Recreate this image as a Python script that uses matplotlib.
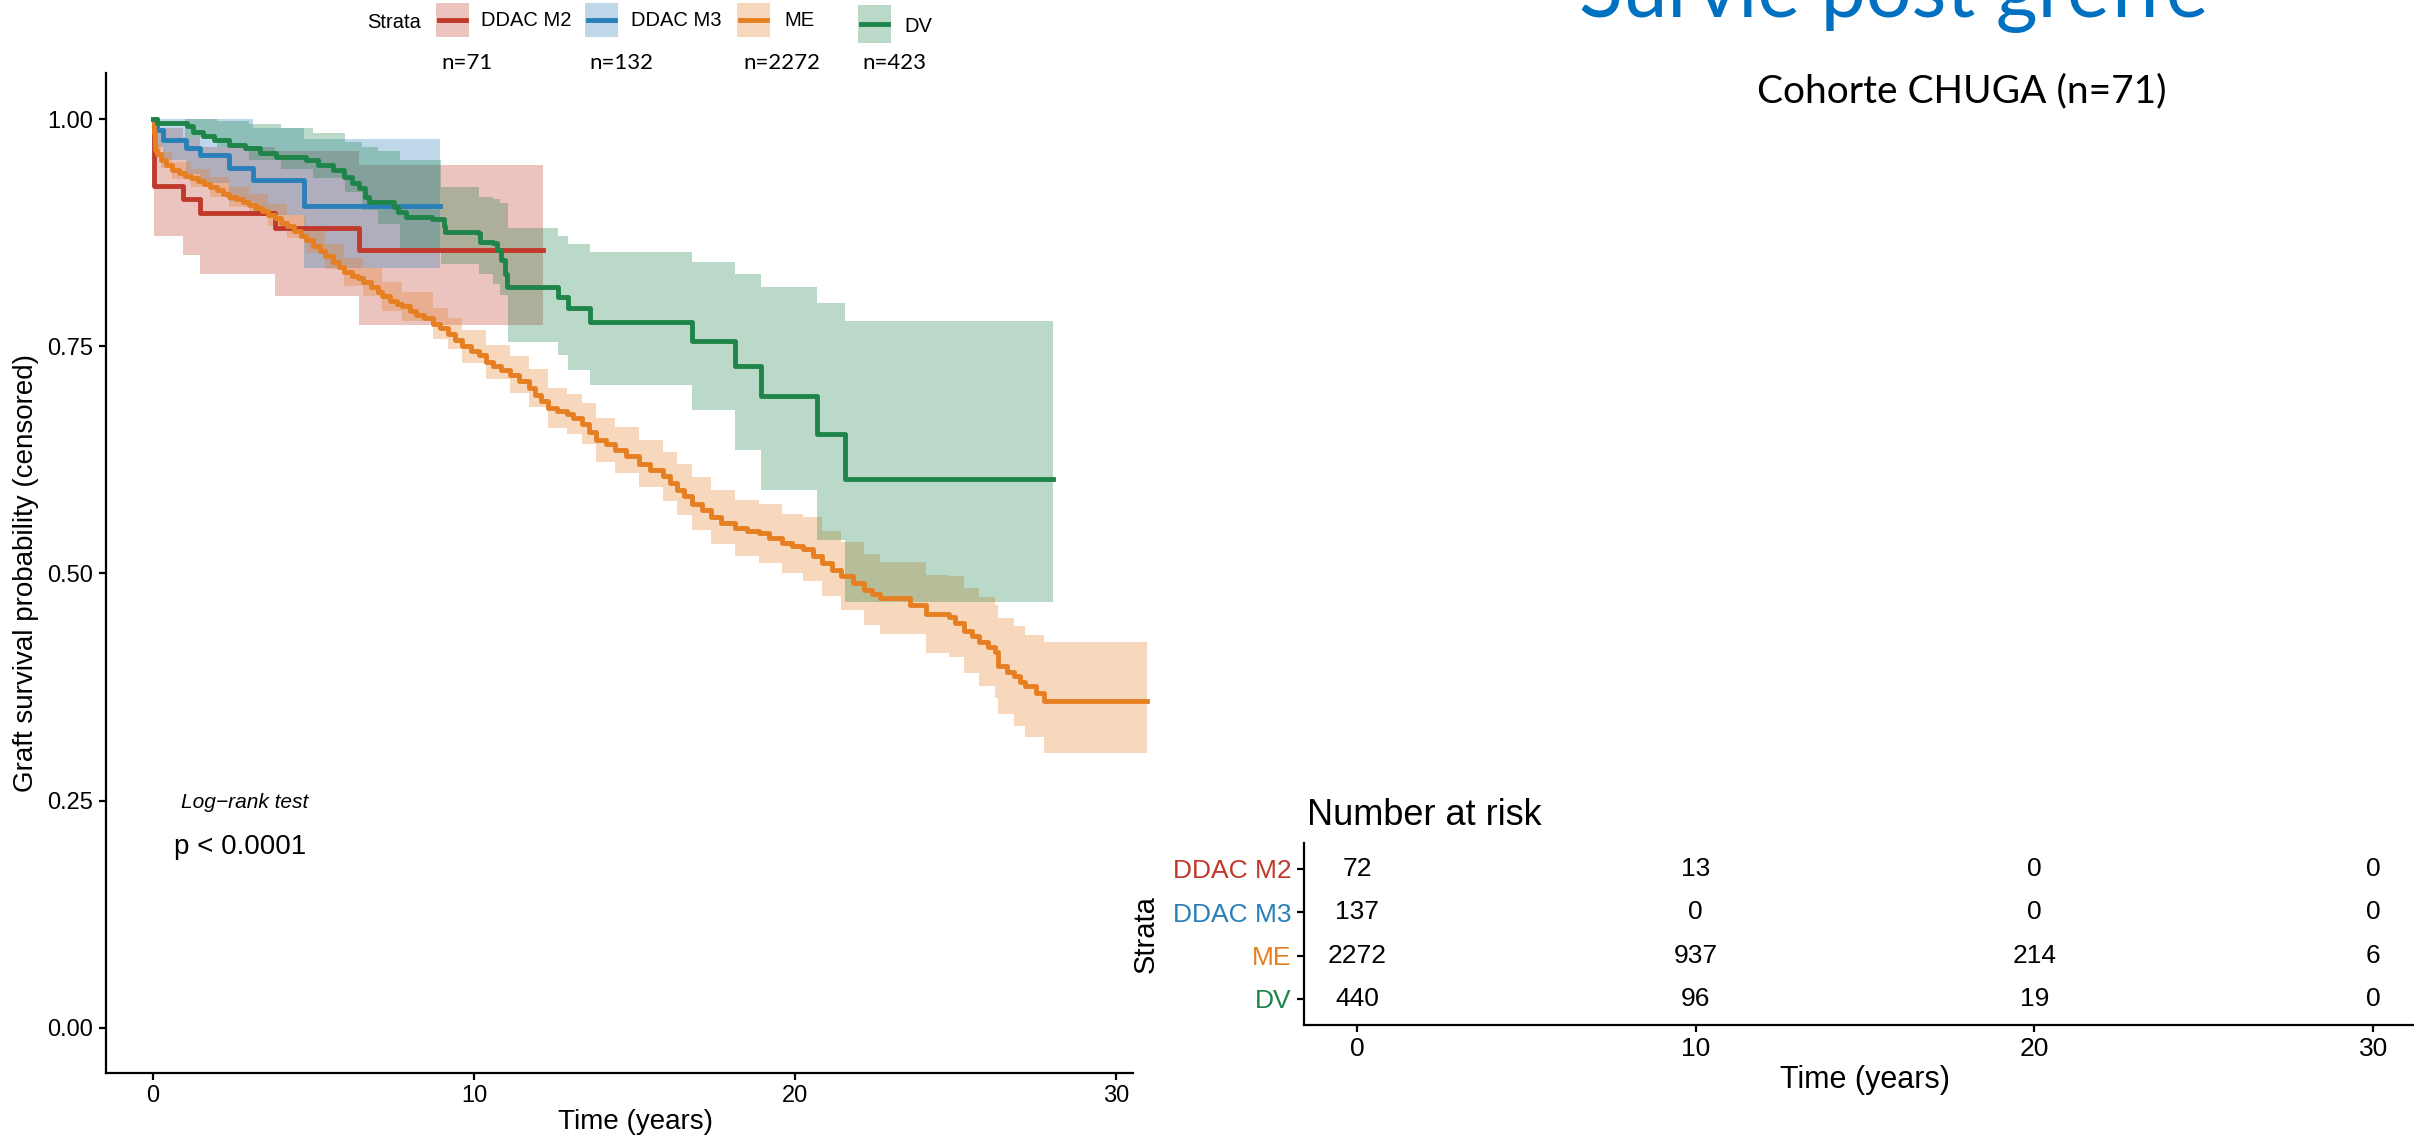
import matplotlib
matplotlib.use("Agg")
import matplotlib.pyplot as plt
from matplotlib.patches import Rectangle

plt.rcParams['font.family'] = ['Liberation Sans', 'DejaVu Sans']

# Kaplan-Meier estimates per stratum (time in years, survival, 95% CI)
m2_t = [0, 0.02, 0.95, 1.46, 3.79, 6.41, 12.16]
m2_s = [1.0, 0.927, 0.912, 0.897, 0.880, 0.856, 0.856]
m2_lo = [1.0, 0.871, 0.851, 0.830, 0.806, 0.774, 0.774]
m2_hi = [1.0, 0.99, 0.98, 0.97, 0.965, 0.950, 0.950]

m3_t = [0, 0.12, 0.3, 1.04, 1.46, 2.36, 3.12, 4.71, 8.94]
m3_s = [1.0, 0.988, 0.977, 0.968, 0.961, 0.946, 0.933, 0.905, 0.905]
m3_lo = [1.0, 0.97, 0.955, 0.94, 0.93, 0.91, 0.895, 0.836, 0.836]
m3_hi = [1.0, 1.0, 1.0, 1.0, 1.0, 1.0, 0.99, 0.978, 0.978]

me_t = [0, 0.02, 0.06, 0.12, 0.24, 0.4, 0.6, 0.8, 1.0, 1.19, 1.4, 1.6, 1.79,
        2.0, 2.2, 2.38, 2.6, 2.8, 2.98, 3.2, 3.4, 3.58, 3.8, 4.0, 4.17, 4.4,
        4.6, 4.77, 5.0, 5.2, 5.37, 5.6, 5.8, 5.96, 6.2, 6.4, 6.56, 6.8, 7.0,
        7.15, 7.4, 7.6, 7.75, 8.0, 8.2, 8.45, 8.74, 8.95, 9.18, 9.4, 9.63,
        9.9, 10.15, 10.38, 10.6, 10.85, 11.12, 11.4, 11.71, 11.9, 12.1, 12.31,
        12.6, 12.91, 13.1, 13.36, 13.6, 13.8, 14.1, 14.4, 14.75, 15.14, 15.5,
        15.89, 16.1, 16.33, 16.55, 16.78, 17.1, 17.38, 17.7, 18.12, 18.5,
        18.87, 19.2, 19.61, 19.9, 20.26, 20.55, 20.85, 21.15, 21.45, 21.8,
        22.16, 22.4, 22.64, 23.59, 24.07, 24.79, 25.0, 25.26, 25.5, 25.74,
        26.0, 26.22, 26.34, 26.6, 26.82, 27.0, 27.17, 27.5, 27.77, 30.98]
me_s = [1.0, 0.985, 0.966, 0.962, 0.955, 0.950, 0.944, 0.941, 0.938, 0.935,
        0.932, 0.929, 0.926, 0.922, 0.918, 0.915, 0.912, 0.909, 0.906, 0.902,
        0.899, 0.895, 0.891, 0.886, 0.882, 0.877, 0.872, 0.867, 0.861, 0.855,
        0.849, 0.843, 0.837, 0.832, 0.828, 0.825, 0.821, 0.815, 0.810, 0.805,
        0.800, 0.797, 0.794, 0.789, 0.785, 0.781, 0.775, 0.770, 0.764, 0.757,
        0.750, 0.745, 0.740, 0.733, 0.728, 0.724, 0.719, 0.712, 0.704, 0.697,
        0.690, 0.682, 0.679, 0.676, 0.671, 0.665, 0.656, 0.647, 0.642, 0.636,
        0.629, 0.621, 0.614, 0.607, 0.600, 0.592, 0.585, 0.577, 0.570, 0.562,
        0.556, 0.550, 0.547, 0.544, 0.539, 0.533, 0.530, 0.527, 0.519, 0.511,
        0.504, 0.4975, 0.490, 0.482, 0.477, 0.473, 0.465, 0.455, 0.4525, 0.445,
        0.437, 0.431, 0.425, 0.419, 0.414, 0.398, 0.392, 0.387, 0.381, 0.376,
        0.368, 0.360, 0.360]
me_band_t = [0, 0.06, 0.24, 0.6, 1.19, 1.79, 2.38, 2.98, 3.58, 4.17, 4.77, 5.37,
             5.96, 6.56, 7.15, 7.75, 8.74, 9.18, 9.63, 10.38, 11.12, 11.71,
             12.31, 12.91, 13.36, 13.8, 14.4, 15.14, 15.89, 16.33, 16.78,
             17.38, 18.12, 18.87, 19.61, 20.26, 20.85, 21.45, 22.16, 22.64,
             24.07, 24.79, 25.26, 25.74, 26.22, 26.34, 26.82, 27.17, 27.77,
             30.98]
me_lo = [1.0, 0.958, 0.946, 0.934, 0.925, 0.915, 0.904, 0.894, 0.883, 0.869,
         0.853, 0.835, 0.817, 0.806, 0.789, 0.778, 0.758, 0.747, 0.732, 0.714,
         0.699, 0.683, 0.660, 0.654, 0.642, 0.623, 0.611, 0.595, 0.580, 0.564,
         0.548, 0.532, 0.519, 0.512, 0.500, 0.492, 0.475, 0.460, 0.443, 0.433,
         0.412, 0.408, 0.390, 0.376, 0.363, 0.345, 0.332, 0.320, 0.302, 0.302]
me_hi = [1.0, 0.974, 0.964, 0.953, 0.945, 0.937, 0.926, 0.918, 0.907, 0.895,
         0.880, 0.863, 0.847, 0.836, 0.821, 0.810, 0.792, 0.781, 0.768, 0.752,
         0.739, 0.725, 0.704, 0.698, 0.688, 0.671, 0.661, 0.647, 0.634, 0.620,
         0.606, 0.592, 0.581, 0.576, 0.566, 0.562, 0.547, 0.535, 0.521, 0.513,
         0.498, 0.497, 0.484, 0.474, 0.465, 0.451, 0.442, 0.432, 0.424, 0.424]

dv_t = [0, 0.12, 1.07, 1.25, 1.55, 1.91, 2.38, 2.86, 3.34, 3.82, 4.77, 5.13,
        5.61, 5.96, 6.2, 6.43, 6.61, 6.74, 7.51, 7.63, 7.87, 8.7, 9.06, 9.1,
        10.13, 10.2, 10.6, 10.72, 10.84, 10.96, 11.02, 12.61, 12.93, 13.62,
        16.78, 18.12, 18.94, 20.68, 21.55, 28.05]
dv_s = [1.0, 0.9955, 0.9926, 0.986, 0.9816, 0.977, 0.9717, 0.968, 0.9626,
        0.959, 0.955, 0.9497, 0.944, 0.937, 0.930, 0.924, 0.915, 0.909, 0.904,
        0.898, 0.893, 0.890, 0.882, 0.876, 0.8745, 0.865, 0.864, 0.856, 0.845,
        0.830, 0.815, 0.804, 0.792, 0.777, 0.756, 0.728, 0.695, 0.654, 0.604,
        0.604]
dv_band_t = [0, 1.0, 2.0, 3.0, 4.0, 5.0, 6.0, 6.5, 7.0, 7.7, 8.96, 10.15,
             10.6, 10.82, 11.05, 12.61, 12.93, 13.62, 16.78, 18.12, 18.94,
             20.68, 21.55, 28.05]
dv_lo = [1.0, 0.98, 0.97, 0.955, 0.945, 0.935, 0.92, 0.90, 0.885, 0.853,
         0.841, 0.830, 0.819, 0.807, 0.755, 0.741, 0.724, 0.7075, 0.680,
         0.636, 0.592, 0.537, 0.469, 0.469]
dv_hi = [1.0, 1.0, 0.998, 0.995, 0.99, 0.985, 0.975, 0.97, 0.965, 0.955,
         0.926, 0.915, 0.912, 0.908, 0.880, 0.871, 0.863, 0.854, 0.843,
         0.830, 0.815, 0.798, 0.778, 0.778]

strata = ['DDAC M2', 'DDAC M3', 'ME', 'DV']
n_labels = ['n=71', 'n=132', 'n=2272', 'n=423']
colors = ['#C0392B', '#2980B9', '#E67E22', '#1E8449']

# number at risk table
risk_times = [0, 10, 20, 30]
risk_m2 = [72, 13, 0, 0]
risk_m3 = [137, 0, 0, 0]
risk_me = [2272, 937, 214, 6]
risk_dv = [440, 96, 19, 0]

W, H = 2414, 1142
fig = plt.figure(figsize=(W / 100, H / 100), dpi=100)


def px_axes(left, top, right, bottom):
    return fig.add_axes([left / W, 1 - bottom / H, (right - left) / W, (bottom - top) / H])


def style(ax, size):
    for s in ['top', 'right']:
        ax.spines[s].set_visible(False)
    for s in ['left', 'bottom']:
        ax.spines[s].set_linewidth(1.6)
    ax.tick_params(length=5, width=1.6, labelsize=size, pad=4, colors='black')


# survival curves
ax = px_axes(106, 73, 1133, 1073)
curves = [(m2_t, m2_s, m2_t, m2_lo, m2_hi),
          (m3_t, m3_s, m3_t, m3_lo, m3_hi),
          (me_t, me_s, me_band_t, me_lo, me_hi),
          (dv_t, dv_s, dv_band_t, dv_lo, dv_hi)]
for (t, s, bt, lo, hi), c in zip(curves, colors):
    ax.fill_between(bt, lo, hi, step='post', color=c, alpha=0.3, linewidth=0, clip_on=False)
for (t, s, bt, lo, hi), c in zip(curves, colors):
    ax.step(t, s, where='post', color=c, linewidth=3.5, clip_on=False)
ax.set_xlim(-1.46, 30.53)
ax.set_ylim(-0.05, 1.051)
ax.set_xticks([0, 10, 20, 30])
ax.set_yticks([0, 0.25, 0.5, 0.75, 1.0])
ax.set_yticklabels(['0.00', '0.25', '0.50', '0.75', '1.00'])
style(ax, 17)

# risk table
rt = px_axes(1304, 843, 2426, 1025)
rows = [risk_m2, risk_m3, risk_me, risk_dv]
ypos = [4, 3, 2, 1]
for vals, y in zip(rows, ypos):
    for t, v in zip(risk_times, vals):
        rt.text(t, y, str(v), ha='center', va='center', fontsize=19)
rt.set_xlim(-1.565, 31.56)
rt.set_ylim(0.4, 4.6)
rt.set_xticks(risk_times)
rt.set_yticks(ypos)
rt.set_yticklabels(strata)
style(rt, 19)
for lab, c in zip(rt.get_yticklabels(), colors):
    lab.set_color(c)

# text and legend in pixel coordinates
ov = fig.add_axes([0, 0, 1, 1])
ov.set_xlim(0, W)
ov.set_ylim(H, 0)
ov.axis('off')

ov.text(1894, 17, 'Survie post greffe', color='#0070C0', fontsize=58,
        family='Lato', ha='center', va='baseline')
ov.text(1757, 102, 'Cohorte CHUGA (n=71)', fontsize=28, family='Lato',
        ha='left', va='baseline')

ov.text(367, 22, 'Strata', fontsize=14.5, ha='left', va='center')
keys = [(436, 3, 37, 481, 20), (585, 3, 37, 631, 20),
        (737, 3, 37, 784, 20), (858, 5, 43, 904, 27)]
for (kx, ky0, ky1, tx, ty), c, name in zip(keys, colors, strata):
    ov.add_patch(Rectangle((kx, ky0), 33, ky1 - ky0, facecolor=c, alpha=0.3, linewidth=0))
    ym = (ky0 + ky1) / 2
    ov.plot([kx + 3, kx + 30], [ym, ym], color=c, linewidth=3.5)
    ov.text(tx, ty, name, fontsize=14.5, ha='left', va='center')
for xc, lab in zip([467, 621, 782, 894], n_labels):
    ov.text(xc, 63, lab, fontsize=16, family='Lato', ha='center', va='center')

ov.text(26, 573, 'Graft survival probability (censored)', fontsize=20,
        rotation=90, ha='center', va='center')
ov.text(636, 1122, 'Time (years)', fontsize=20, ha='center', va='center')
ov.text(181, 802, 'Log\u2212rank test', fontsize=15, style='italic', ha='left', va='center')
ov.text(174, 847, 'p < 0.0001', fontsize=20, ha='left', va='center')

ov.text(1307, 825, 'Number at risk', fontsize=26, ha='left', va='baseline')
ov.text(1146, 934, 'Strata', fontsize=21, rotation=90, ha='center', va='center')
ov.text(1865, 1080, 'Time (years)', fontsize=22, ha='center', va='center')

fig.savefig('out.png', dpi=100)
